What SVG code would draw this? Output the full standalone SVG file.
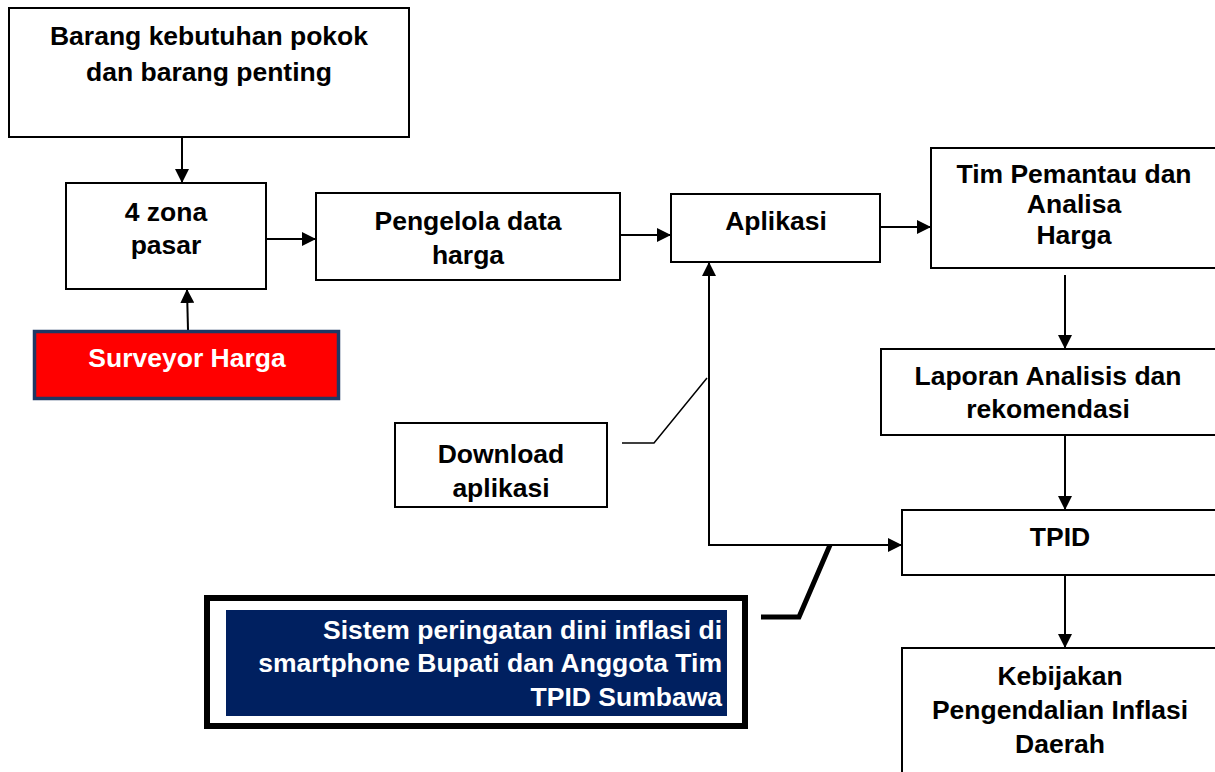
<svg xmlns="http://www.w3.org/2000/svg" width="1215" height="772" viewBox="0 0 1215 772">
<style>
.box{fill:#fff;stroke:#000;stroke-width:2}
.t{font-family:"Liberation Sans",Arial,sans-serif;font-weight:bold;font-size:26.5px;fill:#000;text-anchor:middle}
.w{fill:#fff}
.c{fill:none;stroke:#000;stroke-width:2}
</style>
<defs>
<marker id="ah" markerWidth="14" markerHeight="14" refX="13" refY="7" orient="auto" markerUnits="userSpaceOnUse">
<path d="M0,0 L14,7 L0,14 z" fill="#000"/>
</marker>
</defs>
<rect width="1215" height="772" fill="#fff"/>
<g id="connectors">
<line class="c" x1="182" y1="137" x2="182" y2="182" marker-end="url(#ah)"/>
<line class="c" x1="188" y1="330" x2="187" y2="290" marker-end="url(#ah)"/>
<line class="c" x1="266" y1="239" x2="315" y2="239" marker-end="url(#ah)"/>
<line class="c" x1="620" y1="235" x2="670" y2="235" marker-end="url(#ah)"/>
<line class="c" x1="880" y1="227" x2="930" y2="227" marker-end="url(#ah)"/>
<line class="c" x1="1065" y1="275" x2="1065" y2="348" marker-end="url(#ah)"/>
<line class="c" x1="1065" y1="436" x2="1065" y2="509" marker-end="url(#ah)"/>
<line class="c" x1="1065" y1="576" x2="1065" y2="647" marker-end="url(#ah)"/>
<line class="c" x1="708" y1="545" x2="901" y2="545" marker-end="url(#ah)"/>
<line class="c" x1="709" y1="546" x2="709" y2="263" marker-end="url(#ah)"/>
<polyline fill="none" stroke="#000" stroke-width="1.5" points="622,443 654,443 707,378"/>
<polyline fill="none" stroke="#000" stroke-width="5" points="761,617 799,617 830,545"/>
</g>
<g id="barang">
<rect class="box" x="9" y="8" width="400" height="129"/>
<text class="t" x="209" y="45">Barang kebutuhan pokok</text>
<text class="t" x="209" y="81">dan barang penting</text>
</g>
<g id="zona">
<rect class="box" x="66" y="183" width="200" height="106"/>
<text class="t" x="166" y="221">4 zona</text>
<text class="t" x="166" y="254">pasar</text>
</g>
<g id="surveyor">
<rect x="34.5" y="331.5" width="304" height="67" fill="#ff0000" stroke="#1f3864" stroke-width="3.5"/>
<text class="t w" x="187" y="367">Surveyor Harga</text>
</g>
<g id="pengelola">
<rect class="box" x="316" y="193" width="304" height="87"/>
<text class="t" x="468" y="230">Pengelola data</text>
<text class="t" x="468" y="264">harga</text>
</g>
<g id="aplikasi">
<rect class="box" x="671" y="194" width="209" height="68"/>
<text class="t" x="776" y="230">Aplikasi</text>
</g>
<g id="tim">
<rect class="box" x="931" y="148" width="290" height="120"/>
<text class="t" x="1074" y="183">Tim Pemantau dan</text>
<text class="t" x="1074" y="213">Analisa</text>
<text class="t" x="1074" y="244">Harga</text>
</g>
<g id="laporan">
<rect class="box" x="881" y="349" width="340" height="86"/>
<text class="t" x="1048" y="385">Laporan Analisis dan</text>
<text class="t" x="1048" y="418">rekomendasi</text>
</g>
<g id="download">
<rect class="box" x="395" y="423" width="212" height="84"/>
<text class="t" x="501" y="463">Download</text>
<text class="t" x="501" y="497">aplikasi</text>
</g>
<g id="tpid">
<rect class="box" x="902" y="510" width="320" height="65"/>
<text class="t" x="1060" y="546">TPID</text>
</g>
<g id="kebijakan">
<rect class="box" x="902" y="648" width="320" height="140"/>
<text class="t" x="1060" y="685">Kebijakan</text>
<text class="t" x="1060" y="719">Pengendalian Inflasi</text>
<text class="t" x="1060" y="753">Daerah</text>
</g>
<g id="sistem">
<rect x="207" y="598" width="538" height="128" fill="#fff" stroke="#000" stroke-width="6"/>
<rect x="226" y="610" width="501" height="106" fill="#002060"/>
<text class="t w" x="722" y="639" style="text-anchor:end">Sistem peringatan dini inflasi di</text>
<text class="t w" x="722" y="672" style="text-anchor:end">smartphone Bupati dan Anggota Tim</text>
<text class="t w" x="722" y="706" style="text-anchor:end">TPID Sumbawa</text>
</g>
</svg>
